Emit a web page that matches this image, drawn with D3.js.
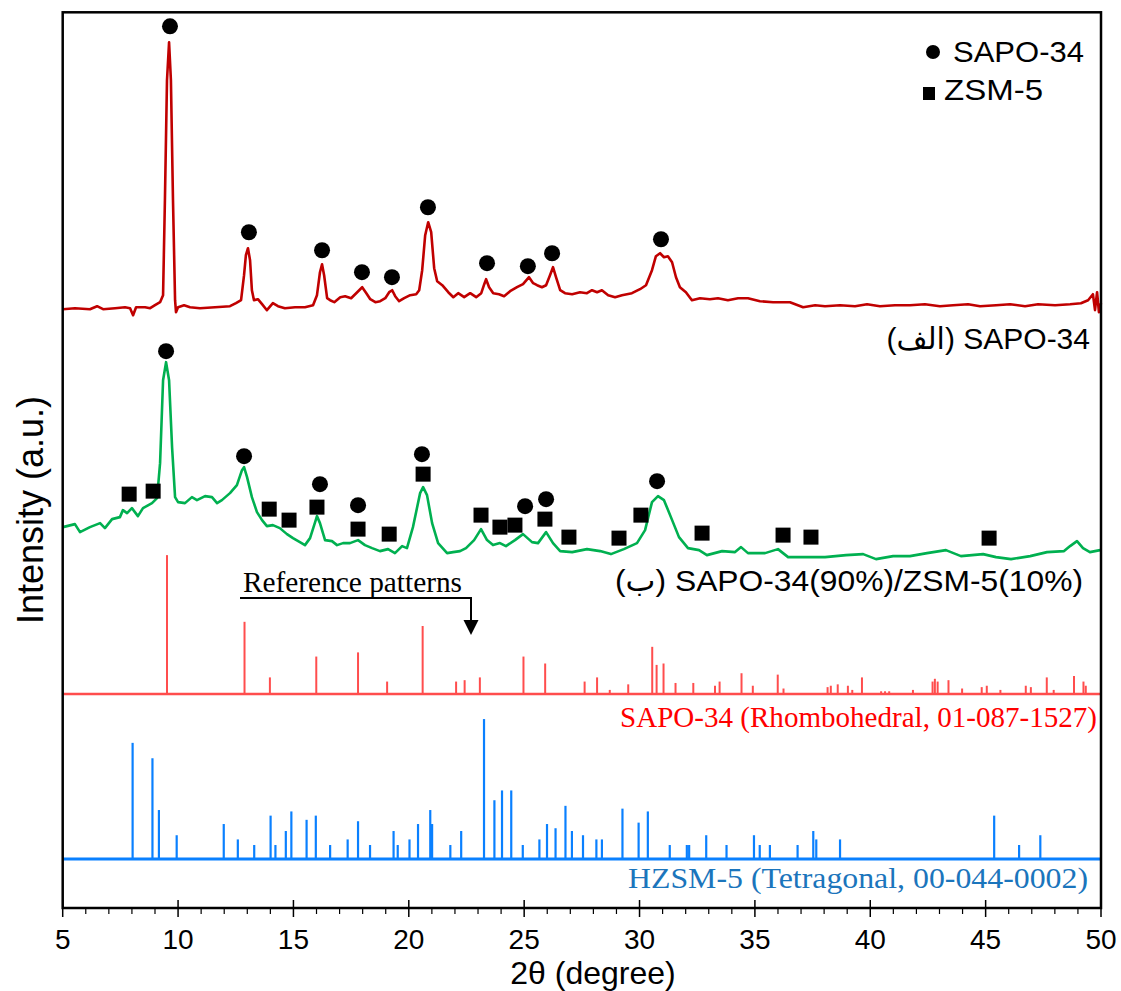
<!DOCTYPE html>
<html><head><meta charset="utf-8">
<script src="https://cdn.jsdelivr.net/npm/d3@7"></script>
<style>body{margin:0;background:#fff}</style>
</head><body>
<svg id="chart" width="1121" height="991"></svg>
<script>
// ---------- DATA ----------
// x axis ticks
const xTicks = [5,10,15,20,25,30,35,40,45,50];

// (a) SAPO-34 measured pattern: [2theta, intensity a.u. (stacked)]
const sapoCurve = [[5.01,599],[5.53,600],[6.18,599],[6.49,602],[6.75,599],[7.27,600],[7.70,601],[7.92,600],[8.05,593],[8.18,601],[8.57,601],[8.79,600],[9.00,603],[9.22,606],[9.35,613],[9.43,708],[9.52,828],[9.61,866],[9.69,828],[9.78,708],[9.87,608],[9.91,596],[10.00,601],[10.26,603],[10.52,601],[10.95,600],[11.60,601],[12.25,602],[12.51,605],[12.73,608],[12.86,633],[12.94,653],[13.03,660],[13.12,648],[13.20,618],[13.29,608],[13.46,609],[13.64,604],[13.85,598],[14.11,605],[14.33,602],[14.63,600],[15.07,601],[15.50,601],[15.85,603],[16.02,613],[16.15,636],[16.24,644],[16.33,633],[16.46,610],[16.59,608],[16.77,606],[17.03,611],[17.24,612],[17.50,610],[17.72,615],[17.98,621],[18.16,615],[18.33,609],[18.55,606],[18.76,607],[18.98,610],[19.15,616],[19.28,618],[19.41,612],[19.58,607],[19.80,610],[20.06,613],[20.32,614],[20.45,618],[20.58,638],[20.71,673],[20.84,686],[20.97,676],[21.10,640],[21.23,627],[21.45,623],[21.71,616],[21.93,611],[22.14,615],[22.40,611],[22.66,615],[22.92,611],[23.14,615],[23.27,624],[23.35,629],[23.48,621],[23.66,615],[23.91,614],[24.13,612],[24.39,617],[24.69,621],[24.95,624],[25.21,631],[25.39,625],[25.56,623],[25.77,621],[25.95,623],[26.12,633],[26.25,641],[26.38,631],[26.56,618],[26.77,615],[27.08,614],[27.42,616],[27.72,615],[27.94,618],[28.16,616],[28.37,618],[28.64,613],[28.94,611],[29.24,613],[29.67,615],[30.02,619],[30.28,623],[30.54,638],[30.71,652],[30.89,655],[31.06,651],[31.23,652],[31.41,646],[31.58,631],[31.75,621],[32.01,616],[32.27,608],[32.62,610],[33.05,609],[33.40,610],[33.83,608],[34.27,610],[34.70,610],[35.22,607],[35.79,606],[36.52,606],[37.09,601],[37.61,603],[38.04,602],[38.69,603],[39.34,602],[39.86,604],[40.42,602],[41.07,603],[41.72,603],[42.37,604],[43.02,602],[43.59,603],[44.24,604],[44.76,602],[45.45,603],[46.06,604],[46.71,602],[47.27,604],[48.01,603],[48.66,604],[49.13,605],[49.44,608],[49.65,614],[49.74,598],[49.83,616],[49.91,596],[50.00,605]];

// (b) SAPO-34(90%)/ZSM-5(10%) measured pattern
const compositeCurve = [[5.01,381],[5.53,384],[5.75,376],[6.18,381],[6.62,385],[6.83,380],[7.14,389],[7.48,391],[7.61,398],[7.79,395],[8.00,400],[8.26,392],[8.48,400],[8.87,405],[9.09,410],[9.22,445],[9.35,528],[9.48,546],[9.61,528],[9.74,461],[9.87,411],[10.00,406],[10.30,405],[10.60,411],[10.82,408],[11.17,412],[11.47,411],[11.69,405],[11.90,408],[12.25,415],[12.55,423],[12.77,438],[12.86,441],[12.99,431],[13.20,411],[13.42,396],[13.64,388],[13.85,382],[14.11,383],[14.41,380],[14.72,374],[14.98,370],[15.28,366],[15.50,363],[15.72,370],[15.94,386],[16.02,392],[16.15,385],[16.37,368],[16.67,367],[16.89,363],[17.15,365],[17.45,365],[17.80,368],[18.10,363],[18.41,360],[18.75,357],[19.10,359],[19.40,355],[19.71,362],[19.92,360],[20.18,381],[20.49,415],[20.62,421],[20.79,413],[21.01,385],[21.27,365],[21.66,355],[21.92,356],[22.22,357],[22.48,360],[22.83,368],[23.13,379],[23.39,368],[23.65,363],[23.95,365],[24.21,362],[24.60,368],[24.95,374],[25.34,366],[25.60,365],[25.95,376],[26.25,365],[26.56,357],[27.08,356],[27.72,359],[28.29,357],[28.76,354],[29.32,359],[29.89,365],[30.24,378],[30.54,406],[30.80,412],[31.06,408],[31.36,391],[31.71,371],[32.10,360],[32.58,358],[32.92,353],[33.58,357],[34.14,356],[34.40,361],[34.70,355],[35.44,355],[36.00,359],[36.44,351],[37.09,351],[38.04,351],[38.95,353],[39.69,354],[40.25,349],[40.99,352],[41.72,352],[42.46,355],[43.28,358],[43.93,352],[44.89,354],[45.45,351],[46.10,349],[46.93,352],[47.66,356],[48.40,357],[48.66,362],[48.96,367],[49.22,360],[49.52,356],[49.96,358]];

// peak markers: [2theta, intensity]
const sapoPeaksA = [[9.65,882],[13.07,676],[16.24,658],[17.97,636],[19.27,631],[20.83,701],[23.39,645],[25.16,642],[26.21,655],[30.93,669]];
const sapoPeaksB = [[9.48,557],[12.86,452],[16.15,424],[17.80,403],[20.57,454],[25.04,402],[25.95,409],[30.76,427]];
const zsmPeaksB = [[7.88,414],[8.92,417],[13.95,399],[14.81,388],[16.02,401],[17.80,379],[19.15,374],[20.62,434],[23.13,393],[23.95,381],[24.60,383],[25.90,389],[26.94,371],[29.11,370],[30.06,393],[32.71,375],[36.22,373],[37.43,371],[45.15,370]];

// reference patterns: [2theta, relative intensity %]
const sapoRef = [[9.52,100],[12.88,52],[13.98,12],[15.99,27],[17.80,30],[19.06,9],[20.60,49],[22.05,9],[22.42,10],[23.08,12],[24.97,27],[25.91,22],[27.62,9],[28.16,12],[28.71,3],[29.51,7],[30.55,34],[30.74,21],[31.04,22],[31.56,8],[32.33,8],[33.27,6],[33.47,9],[34.42,15],[34.91,6],[35.99,14],[36.24,4],[38.15,5],[38.29,6],[38.59,7],[39.03,6],[39.22,3],[39.64,12],[40.47,2],[40.64,2],[40.82,2],[41.85,3],[42.70,9],[42.80,11],[42.92,9],[43.39,10],[43.98,4],[44.83,5],[45.05,6],[45.64,3],[46.74,6],[46.96,5],[47.65,12],[47.95,3],[48.83,13],[49.24,9],[49.34,6]];
const hzsmRef = [[8.03,83],[8.89,72],[9.17,35],[9.94,17],[11.98,25],[12.59,14],[13.30,10],[14.01,31],[14.22,10],[14.67,20],[14.91,34],[15.57,28],[15.97,31],[16.59,10],[17.35,14],[17.80,27],[18.32,10],[19.34,20],[19.52,10],[20.03,14],[20.40,25],[20.93,35],[21.01,25],[21.80,10],[22.27,20],[23.26,100],[23.71,42],[24.04,49],[24.44,49],[24.94,10],[25.66,14],[25.99,25],[26.36,22],[26.79,38],[27.07,20],[27.55,17],[28.13,14],[28.37,14],[29.26,36],[29.96,26],[30.36,34],[31.31,10],[32.05,10],[32.15,10],[32.89,17],[33.77,10],[34.96,17],[35.21,10],[35.65,10],[36.85,10],[37.53,20],[37.66,14],[38.69,14],[45.37,31],[46.45,10],[47.37,17]];

const labels = {
  sampleA: "(الف) SAPO-34",
  sampleB: "(ب) SAPO-34(90%)/ZSM-5(10%)",
  refNote: "Reference patterns",
  sapoRefLabel: "SAPO-34 (Rhombohedral, 01-087-1527)",
  hzsmRefLabel: "HZSM-5 (Tetragonal, 00-044-0002)",
  legend: ["SAPO-34", "ZSM-5"],
  xTitle: "2θ (degree)",
  yTitle: "Intensity (a.u.)"
};

// ---------- LAYOUT / STYLE ----------
const L = 62.7, R = 1101, T = 12.3, B = 908;
const sans = "'Liberation Sans', Arial, 'DejaVu Sans', sans-serif";
const serif = "'Liberation Serif', 'Times New Roman', 'DejaVu Serif', serif";
const refOffsets = {sapo: 214, hzsm: 49};       // stacking baselines (a.u.)
const refScale = {sapo: 1.39, hzsm: 1.40};      // a.u. per %

const svg = d3.select("#chart");
const x = d3.scaleLinear().domain([5, 50]).range([L, R]);
const y = d3.scaleLinear().domain([0, 896]).range([B, T]);

const line = d3.line().x(d => x(d[0])).y(d => y(d[1]));

// reference baselines + sticks
function drawRef(data, base, k, color, sw, bw) {
  svg.append("line").attr("x1", L).attr("x2", R)
    .attr("y1", y(base)).attr("y2", y(base))
    .attr("stroke", color).attr("stroke-width", bw);
  svg.append("g").selectAll("line").data(data).join("line")
    .attr("x1", d => x(d[0])).attr("x2", d => x(d[0]))
    .attr("y1", y(base)).attr("y2", d => y(base + d[1] * k))
    .attr("stroke", color).attr("stroke-width", sw);
}
drawRef(sapoRef, refOffsets.sapo, refScale.sapo, "#ff4d4d", 2, 2.5);
drawRef(hzsmRef, refOffsets.hzsm, refScale.hzsm, "#0a80ff", 2.2, 3);

// measured curves
svg.append("path").datum(compositeCurve).attr("d", line)
  .attr("fill", "none").attr("stroke", "#00b050").attr("stroke-width", 2.6)
  .attr("stroke-linejoin", "round");
svg.append("path").datum(sapoCurve).attr("d", line)
  .attr("fill", "none").attr("stroke", "#c00000").attr("stroke-width", 2.6)
  .attr("stroke-linejoin", "round");

// markers
const circleR = 8, sq = 15;
svg.append("g").selectAll("circle").data(sapoPeaksA.concat(sapoPeaksB)).join("circle")
  .attr("cx", d => x(d[0])).attr("cy", d => y(d[1])).attr("r", circleR).attr("fill", "#000");
svg.append("g").selectAll("rect").data(zsmPeaksB).join("rect")
  .attr("x", d => x(d[0]) - sq / 2).attr("y", d => y(d[1]) - sq / 2)
  .attr("width", sq).attr("height", sq).attr("fill", "#000");

// frame
svg.append("rect").attr("x", L).attr("y", T).attr("width", R - L).attr("height", B - T)
  .attr("fill", "none").attr("stroke", "#000").attr("stroke-width", 2.5);

// x axis ticks
const minor = d3.range(5, 51, 1).filter(v => v % 5 !== 0);
svg.append("g").selectAll("line").data(minor).join("line")
  .attr("x1", d => x(d)).attr("x2", d => x(d)).attr("y1", B).attr("y2", B + 6)
  .attr("stroke", "#000").attr("stroke-width", 1.2);
svg.append("g").selectAll("line").data(xTicks).join("line")
  .attr("x1", d => x(d)).attr("x2", d => x(d)).attr("y1", B - 8).attr("y2", B + 9)
  .attr("stroke", "#000").attr("stroke-width", 1.5);
svg.append("g").selectAll("text").data(xTicks).join("text")
  .attr("x", d => x(d)).attr("y", 949).attr("text-anchor", "middle")
  .attr("font-family", sans).attr("font-size", 28).text(d => d);

// axis titles
svg.append("text").attr("x", 593).attr("y", 984).attr("text-anchor", "middle")
  .attr("font-family", sans).attr("font-size", 32).text(labels.xTitle);
svg.append("text").attr("transform", "translate(43,510) rotate(-90)").attr("text-anchor", "middle")
  .attr("font-family", sans).attr("font-size", 36).text(labels.yTitle);

// sample labels
svg.append("text").attr("x", 1090).attr("y", 349).attr("text-anchor", "end")
  .attr("font-family", sans).attr("font-size", 30).attr("direction", "ltr").text(labels.sampleA);
svg.append("text").attr("x", 1083).attr("y", 591).attr("text-anchor", "end")
  .attr("font-family", sans).attr("font-size", 30).attr("direction", "ltr")
  .attr("textLength", 468).attr("lengthAdjust", "spacingAndGlyphs").text(labels.sampleB);

// reference note + arrow
svg.append("text").attr("x", 243).attr("y", 592)
  .attr("font-family", serif).attr("font-size", 30)
  .attr("textLength", 219).attr("lengthAdjust", "spacingAndGlyphs").text(labels.refNote);
svg.append("path").attr("d", `M240,598 H471 V621`).attr("fill", "none")
  .attr("stroke", "#000").attr("stroke-width", 2);
svg.append("path").attr("d", `M463.5,620 L478.5,620 L471,635 Z`).attr("fill", "#000");

svg.append("text").attr("x", 1097).attr("y", 727).attr("text-anchor", "end")
  .attr("font-family", serif).attr("font-size", 29).attr("fill", "#ff0000")
  .attr("textLength", 477).attr("lengthAdjust", "spacingAndGlyphs").text(labels.sapoRefLabel);
svg.append("text").attr("x", 1088).attr("y", 888).attr("text-anchor", "end")
  .attr("font-family", serif).attr("font-size", 30).attr("fill", "#1b75bc")
  .attr("textLength", 460).attr("lengthAdjust", "spacingAndGlyphs").text(labels.hzsmRefLabel);

// legend
svg.append("circle").attr("cx", 933).attr("cy", 52).attr("r", 7).attr("fill", "#000");
svg.append("text").attr("x", 953).attr("y", 62).attr("font-family", sans).attr("font-size", 30)
  .attr("textLength", 131).attr("lengthAdjust", "spacingAndGlyphs").text(labels.legend[0]);
svg.append("rect").attr("x", 923).attr("y", 87).attr("width", 12).attr("height", 13).attr("fill", "#000");
svg.append("text").attr("x", 944).attr("y", 100).attr("font-family", sans).attr("font-size", 30)
  .attr("textLength", 99).attr("lengthAdjust", "spacingAndGlyphs").text(labels.legend[1]);
</script>
</body></html>
